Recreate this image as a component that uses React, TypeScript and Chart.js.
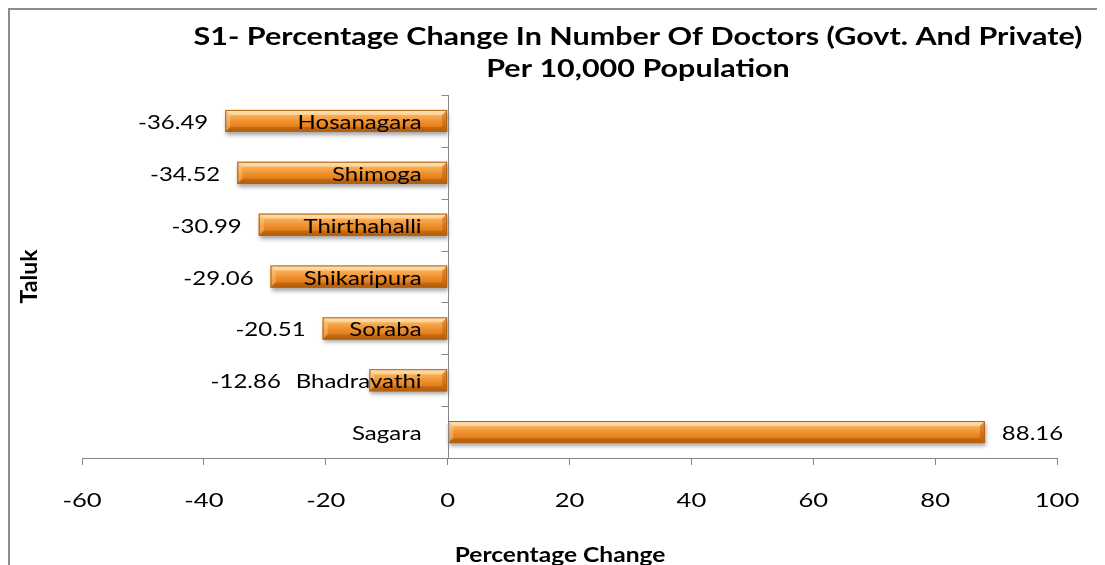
import React, { useEffect, useRef } from "react";
import { Chart, registerables } from "chart.js";

Chart.register(...registerables);

const categories = ["Hosanagara", "Shimoga", "Thirthahalli", "Shikaripura", "Soraba", "Bhadravathi", "Sagara"];
const values = [-36.49, -34.52, -30.99, -29.06, -20.51, -12.86, 88.16];
const valueLabels = ["-36.49", "-34.52", "-30.99", "-29.06", "-20.51", "-12.86", "88.16"];
const titleLines = ["S1- Percentage Change In Number Of Doctors (Govt. And Private)", "Per 10,000 Population"];
const xAxisTitle = "Percentage Change";
const yAxisTitle = "Taluk";
const xMin = -60;
const xMax = 100;
const xStep = 20;

const FONT = "Lato, 'Open Sans', sans-serif";

function drawText(ctx: any, text: string, x: number, y: number, align: string, font: string, sx: number) {
  ctx.save();
  ctx.translate(x, y);
  ctx.scale(sx, 1);
  ctx.font = font;
  ctx.textAlign = align;
  ctx.textBaseline = "alphabetic";
  ctx.fillStyle = "#000";
  ctx.fillText(text, 0, 0);
  ctx.restore();
}

function textWidth(ctx: any, text: string, font: string, sx: number) {
  ctx.save();
  ctx.font = font;
  const w = ctx.measureText(text).width * sx;
  ctx.restore();
  return w;
}

const LABEL_FONT = `19.5px ${FONT}`;
const LABEL_SX = 1.23;

const decorPlugin = {
  id: "decor",
  afterDatasetsDraw(chart: any) {
    const ctx = chart.ctx;
    const meta = chart.getDatasetMeta(0);
    const xs = chart.scales.x;
    const ys = chart.scales.y;
    const x0 = xs.getPixelForValue(0);
    const area = chart.chartArea;
    ctx.save();
    // bars with bevel
    meta.data.forEach((bar: any) => {
      const left = Math.min(bar.x, bar.base);
      const right = Math.max(bar.x, bar.base);
      const top = bar.y - bar.height / 2;
      const bottom = bar.y + bar.height / 2;
      const g = ctx.createLinearGradient(0, top, 0, bottom);
      g.addColorStop(0, "#FBD49C");
      g.addColorStop(0.2, "#F9B45E");
      g.addColorStop(0.5, "#F19331");
      g.addColorStop(0.8, "#E07C18");
      g.addColorStop(1, "#C4670E");
      ctx.save();
      ctx.shadowColor = "rgba(0,0,0,0.35)";
      ctx.shadowBlur = 4;
      ctx.shadowOffsetY = 3;
      ctx.shadowOffsetX = 1;
      ctx.fillStyle = g;
      ctx.fillRect(left, top, right - left, bottom - top);
      ctx.restore();
      const b = 5;
      ctx.fillStyle = "rgba(255,236,200,0.55)";
      ctx.beginPath();
      ctx.moveTo(left, top);
      ctx.lineTo(right, top);
      ctx.lineTo(right - b, top + b);
      ctx.lineTo(left + b, top + b);
      ctx.closePath();
      ctx.fill();
      ctx.fillStyle = "rgba(150,70,0,0.35)";
      ctx.beginPath();
      ctx.moveTo(left, bottom);
      ctx.lineTo(right, bottom);
      ctx.lineTo(right - b, bottom - b);
      ctx.lineTo(left + b, bottom - b);
      ctx.closePath();
      ctx.fill();
      ctx.fillStyle = "rgba(255,220,170,0.35)";
      ctx.beginPath();
      ctx.moveTo(left, top);
      ctx.lineTo(left + b, top + b);
      ctx.lineTo(left + b, bottom - b);
      ctx.lineTo(left, bottom);
      ctx.closePath();
      ctx.fill();
      ctx.fillStyle = "rgba(170,80,0,0.4)";
      ctx.beginPath();
      ctx.moveTo(right, top);
      ctx.lineTo(right - b, top + b);
      ctx.lineTo(right - b, bottom - b);
      ctx.lineTo(right, bottom);
      ctx.closePath();
      ctx.fill();
      ctx.strokeStyle = "#B4620F";
      ctx.lineWidth = 1;
      ctx.strokeRect(left + 0.5, top + 0.5, right - left - 1, bottom - top - 1);
    });

    // y axis line and ticks at x = 0
    ctx.strokeStyle = "#868686";
    ctx.lineWidth = 1;
    const ax = Math.round(x0) + 0.5;
    const band = ys.getPixelForValue(1) - ys.getPixelForValue(0);
    ctx.beginPath();
    ctx.moveTo(ax, area.top);
    ctx.lineTo(ax, area.bottom);
    for (let i = 0; i < categories.length; i++) {
      const yy = Math.round(ys.getPixelForValue(i) - band / 2) + 0.5;
      ctx.moveTo(ax - 7, yy);
      ctx.lineTo(ax, yy);
    }
    ctx.stroke();

    // category labels and value labels
    meta.data.forEach((bar: any, i: number) => {
      const cy = ys.getPixelForValue(i) + 8;
      const catRight = x0 - 26;
      drawText(ctx, categories[i], catRight, cy, "right", LABEL_FONT, LABEL_SX);
      const catLeft = catRight - textWidth(ctx, categories[i], LABEL_FONT, LABEL_SX);
      if (values[i] < 0) {
        const r = Math.min(bar.x - 17, catLeft - 15);
        drawText(ctx, valueLabels[i], r, cy, "right", LABEL_FONT, LABEL_SX);
      } else {
        drawText(ctx, valueLabels[i], bar.x + 17, cy, "left", LABEL_FONT, LABEL_SX);
      }
    });

    // x tick labels
    xs.ticks.forEach((t: any) => {
      drawText(ctx, String(t.value), xs.getPixelForValue(t.value), area.bottom + 49, "center", `20px ${FONT}`, 1.28);
    });

    // axis titles
    drawText(ctx, xAxisTitle, 550, area.bottom + 104, "center", `bold 21px ${FONT}`, 1.17);
    ctx.save();
    ctx.translate(27, (area.top + area.bottom) / 2);
    ctx.rotate(-Math.PI / 2);
    ctx.font = `bold 23px ${FONT}`;
    ctx.textAlign = "center";
    ctx.textBaseline = "alphabetic";
    ctx.fillStyle = "#000";
    ctx.fillText(yAxisTitle, 0, 0);
    ctx.restore();

    // chart title
    drawText(ctx, titleLines[0], 628, 35, "center", `bold 25px ${FONT}`, 1.22);
    drawText(ctx, titleLines[1], 628, 67, "center", `bold 25px ${FONT}`, 1.22);
    ctx.restore();
  },
};

export default function App() {
  const ref = useRef<HTMLCanvasElement | null>(null);
  useEffect(() => {
    if (!ref.current) return;
    const chart = new Chart(ref.current, {
      type: "bar",
      data: {
        labels: categories,
        datasets: [
          {
            data: values,
            backgroundColor: "#F09534",
            borderWidth: 0,
            barPercentage: 0.425,
            categoryPercentage: 1,
          },
        ],
      },
      options: {
        indexAxis: "y",
        animation: false,
        responsive: false,
        maintainAspectRatio: false,
        layout: { padding: { top: 85, right: 48, bottom: 0, left: 0 } },
        plugins: { legend: { display: false }, tooltip: { enabled: false }, title: { display: false } },
        scales: {
          x: {
            type: "linear",
            min: xMin,
            max: xMax,
            ticks: { stepSize: xStep, display: false },
            grid: { drawOnChartArea: false, drawTicks: true, tickLength: 7, color: "#868686" },
            border: { display: true, color: "#868686" },
            title: { display: false },
            afterFit: (s: any) => {
              s.height = 107;
            },
          },
          y: {
            type: "category",
            grid: { display: false },
            border: { display: false },
            ticks: { display: false },
            title: { display: false },
            afterFit: (s: any) => {
              s.width = 72;
            },
          },
        },
      },
      plugins: [decorPlugin],
    } as any);
    return () => chart.destroy();
  }, []);
  return (
    <div
      style={{
        width: 1097,
        height: 557,
        boxSizing: "border-box",
        borderLeft: "2px solid #8c8c8c",
        borderTop: "2px solid #8c8c8c",
        overflow: "hidden",
        background: "#fff",
      }}
    >
      <canvas ref={ref} width={1095} height={555} style={{ display: "block" }} />
    </div>
  );
}
